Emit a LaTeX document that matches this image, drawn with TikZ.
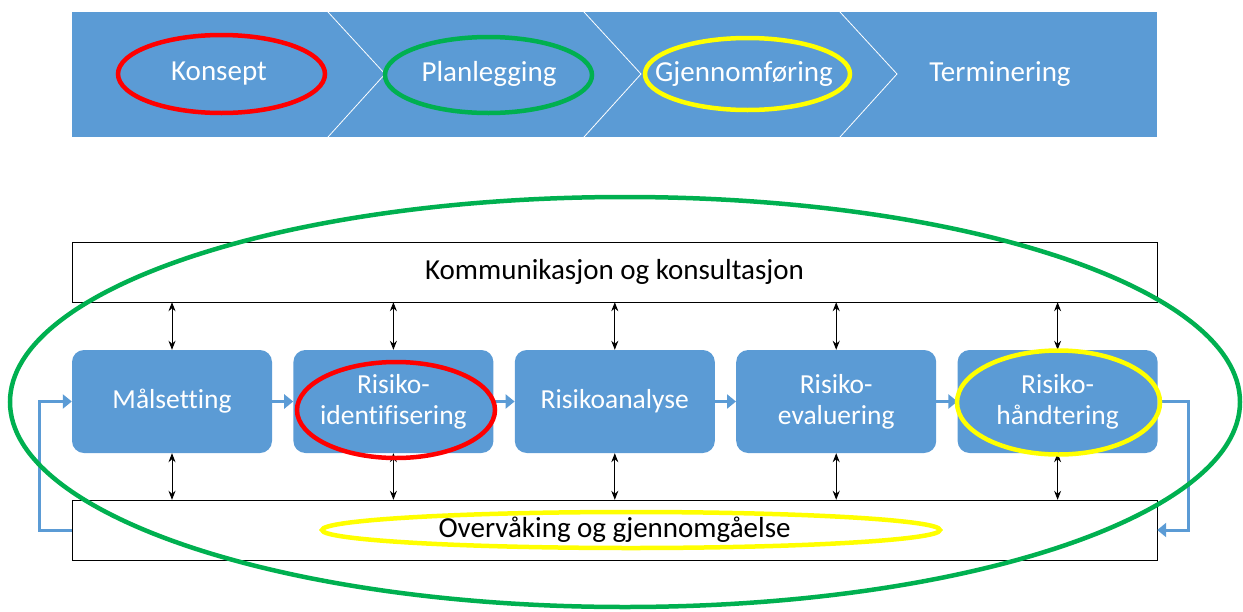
\documentclass[tikz,border=0pt]{standalone}
\usepackage{fontspec}
\setmainfont{Carlito}[Ligatures=NoCommon]
\usepackage{tikz}
\usetikzlibrary{arrows.meta, positioning}
\definecolor{blaa}{RGB}{91,155,213}
\definecolor{roed}{RGB}{255,0,0}
\definecolor{groenn}{RGB}{0,176,80}
\definecolor{gul}{RGB}{255,255,0}

\begin{document}
\begin{tikzpicture}[x=1pt, y=-1pt,
    fase/.style={text=white, font=\fontsize{29}{34}\selectfont},
    steg/.style={fill=blaa, rounded corners=12pt, minimum width=200pt, minimum height=103pt, text=white, align=center, font=\fontsize{27.5}{31}\selectfont},
    ramme/.style={draw=black, fill=white, text=black, minimum width=1085pt, minimum height=60pt, font=\fontsize{29}{34}\selectfont},
    pil/.style={draw=blaa, line width=3pt, -{Triangle[length=9pt, width=14pt]}},
    dobbel/.style={{Stealth[length=9pt, width=7pt]}-{Stealth[length=9pt, width=7pt]}, line width=1pt},
    ring/.style={line width=4.5pt}]
    \useasboundingbox (0,0) rectangle (1243,611);

    %draws the phase bar
    \fill[blaa] (72,12) rectangle (1157,137);%bar
    \draw[white, line width=0.8pt] (328,12) -- (385,74) -- (328,137);%first chevron
    \draw[white, line width=0.8pt] (584,12) -- (641,74) -- (584,137);%second chevron
    \draw[white, line width=0.8pt] (840,12) -- (897,74) -- (840,137);%third chevron
    \node (konsept) [fase] at (219,74){Konsept};
    \node (plan) [fase] at (489,74){Planlegging};
    \node (gjen) [fase] at (744,74){Gjennomføring};
    \node (term) [fase] at (1000,74){Terminering};

    %creates the frames and the process steps
    \node (komm) [ramme] at (614.5,272){Kommunikasjon og konsultasjon};
    \node (overv) [ramme] at (614.5,530){Overvåking og gjennomgåelse};
    \node (mal) [steg] at (172,401.5){Målsetting};
    \node (ident) [steg, right=21pt of mal]{Risiko-\\identifisering};
    \node (analyse) [steg, right=21pt of ident]{Risikoanalyse};
    \node (evaluer) [steg, right=21pt of analyse]{Risiko-\\evaluering};
    \node (handt) [steg, right=21pt of evaluer]{Risiko-\\håndtering};

    %draws arrows between the steps
    \draw[pil] (mal) -- (ident);
    \draw[pil] (ident) -- (analyse);
    \draw[pil] (analyse) -- (evaluer);
    \draw[pil] (evaluer) -- (handt);
    \draw[pil] (overv.west) -- ++(-32,0) |- (mal.west);%loop back to start
    \draw[pil] (handt.east) -- ++(31,0) |- (overv.east);%loop down to monitoring

    %draws arrows to the frames
    \draw[dobbel] (komm.south -| mal) -- (mal);
    \draw[dobbel] (komm.south -| ident) -- (ident);
    \draw[dobbel] (komm.south -| analyse) -- (analyse);
    \draw[dobbel] (komm.south -| evaluer) -- (evaluer);
    \draw[dobbel] (komm.south -| handt) -- (handt);
    \draw[dobbel] (mal) -- (overv.north -| mal);
    \draw[dobbel] (ident) -- (overv.north -| ident);
    \draw[dobbel] (analyse) -- (overv.north -| analyse);
    \draw[dobbel] (evaluer) -- (overv.north -| evaluer);
    \draw[dobbel] (handt) -- (overv.north -| handt);

    %draws the marking rings
    \draw[ring, roed] (221.5,74) ellipse [x radius=103.5, y radius=39];%Konsept
    \draw[ring, groenn] (488.5,75) ellipse [x radius=103.5, y radius=38];%Planlegging
    \draw[ring, gul] (747.5,74) ellipse [x radius=102.5, y radius=36];%Gjennomføring
    \draw[ring, groenn] (625,402) ellipse [x radius=615, y radius=205];%whole process
    \draw[ring, roed] (396,410) ellipse [x radius=99, y radius=48];%identification
    \draw[ring, gul] (1058.5,402.5) ellipse [x radius=101.5, y radius=52];%treatment
    \draw[ring, gul] (631,530) ellipse [x radius=309, y radius=18];%monitoring
\end{tikzpicture}
\end{document}
